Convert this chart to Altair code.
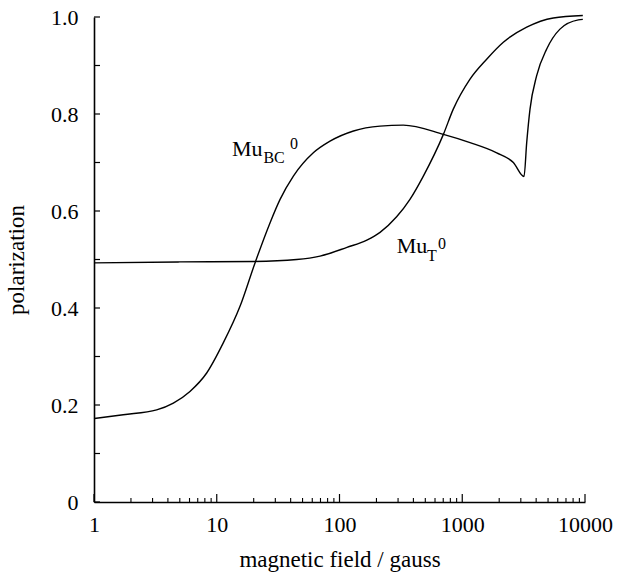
import altair as alt
import pandas as pd

# Mu_BC^0 curve
bc_field = [1, 1.73, 3.24, 4.43, 6.05, 8.28, 11.3, 15.5, 20.5, 27.2, 32.8, 42.1, 61.2, 83.7,
            130, 214, 331, 702, 1157, 1909, 2608, 3185, 3350, 3565, 4039, 4876, 6250, 8830, 9600]
bc_pol = [0.172, 0.180, 0.190, 0.204, 0.228, 0.266, 0.328, 0.404, 0.493, 0.576, 0.624, 0.672, 0.720, 0.744,
          0.765, 0.775, 0.777, 0.758, 0.741, 0.720, 0.700, 0.671, 0.741, 0.810, 0.879, 0.934, 0.975, 0.994, 0.995]

# Mu_T^0 curve
t_field = [1, 5, 20, 44.8, 69.4, 115, 167, 214, 292, 375, 482, 702, 845, 1157, 1581, 2161, 3350, 5520, 9600]
t_pol = [0.493, 0.495, 0.496, 0.500, 0.507, 0.525, 0.540, 0.556, 0.588, 0.624, 0.672, 0.758, 0.810,
         0.872, 0.913, 0.948, 0.979, 0.998, 1.003]

x_major = [1, 10, 100, 1000, 10000]
x_minor = [m * d for d in [1, 10, 100, 1000] for m in range(2, 10)]
y_labels = [0, 0.2, 0.4, 0.6, 0.8, 1.0]
y_ticks = [round(0.1 * i, 1) for i in range(11)]

main_text = ["Mu", "Mu"]
main_x = [13.3, 292]
main_y = [0.714, 0.514]
script_text = ["BC", "0", "T", "0"]
script_x = [24.0, 39.5, 516, 634]
script_y = [0.700, 0.727, 0.497, 0.521]

df = pd.DataFrame({
    "field": bc_field + t_field,
    "pol": bc_pol + t_pol,
    "curve": ["BC"] * len(bc_field) + ["T"] * len(t_field),
})
df_main = pd.DataFrame({"x": main_x, "y": main_y, "t": main_text})
df_script = pd.DataFrame({"x": script_x, "y": script_y, "t": script_text})
df_xmaj = pd.DataFrame({"v": x_major})
df_xmin = pd.DataFrame({"v": x_minor})
df_yt = pd.DataFrame({"v": y_ticks})

FONT = "Liberation Serif"
xscale = alt.Scale(type="log", domain=[1, 10000])
yscale = alt.Scale(domain=[0, 1])
H, W = 485, 491

lines = alt.Chart(df).mark_line(color="black", strokeWidth=1.4, interpolate="monotone").encode(
    x=alt.X("field:Q", scale=xscale, axis=alt.Axis(
        orient="bottom", values=x_major, format="d", ticks=False, tickSize=0,
        domainColor="black", domainWidth=1.6, labelFont=FONT, labelFontSize=22,
        labelColor="black", labelPadding=12, labelFlush=False, grid=False,
        title="magnetic field / gauss", titleFont=FONT, titleFontSize=23,
        titleFontWeight="normal", titleColor="black", titlePadding=13)),
    y=alt.Y("pol:Q", scale=yscale, axis=alt.Axis(
        orient="left", values=y_labels,
        labelExpr="datum.value == 0 ? '0' : format(datum.value, '.1f')",
        ticks=False, tickSize=0, domainColor="black", domainWidth=1.6,
        labelFont=FONT, labelFontSize=22, labelColor="black", labelPadding=16,
        labelFlush=False, grid=False, title="polarization", titleFont=FONT,
        titleFontSize=23, titleFontWeight="normal", titleColor="black", titlePadding=22)),
    detail="curve:N",
)

xmaj_ticks = alt.Chart(df_xmaj).mark_rule(color="black", strokeWidth=1.2).encode(
    x=alt.X("v:Q", scale=xscale, axis=None),
    y=alt.value(H), y2=alt.value(H - 8),
)
xmin_ticks = alt.Chart(df_xmin).mark_rule(color="black", strokeWidth=1.1).encode(
    x=alt.X("v:Q", scale=xscale, axis=None),
    y=alt.value(H), y2=alt.value(H - 4),
)
y_tick_marks = alt.Chart(df_yt).mark_rule(color="black", strokeWidth=1.2).encode(
    y=alt.Y("v:Q", scale=yscale, axis=None),
    x=alt.value(0), x2=alt.value(6),
)

main_lbl = alt.Chart(df_main).mark_text(
    font=FONT, fontSize=22, color="black", align="left", baseline="alphabetic").encode(
    x=alt.X("x:Q", scale=xscale, axis=None),
    y=alt.Y("y:Q", scale=yscale, axis=None),
    text="t:N",
)
script_lbl = alt.Chart(df_script).mark_text(
    font=FONT, fontSize=16, color="black", align="left", baseline="alphabetic").encode(
    x=alt.X("x:Q", scale=xscale, axis=None),
    y=alt.Y("y:Q", scale=yscale, axis=None),
    text="t:N",
)

chart = alt.layer(lines, xmaj_ticks, xmin_ticks, y_tick_marks, main_lbl, script_lbl).resolve_axis(
    x="independent", y="independent"
).properties(
    width=W, height=H,
    autosize=alt.AutoSizeParams(type="none"),
    padding={"left": 94, "top": 17, "right": 32, "bottom": 71},
    background="white",
).configure_view(strokeWidth=0)

chart.save("out.html", embed_options={"renderer": "svg", "actions": False})
